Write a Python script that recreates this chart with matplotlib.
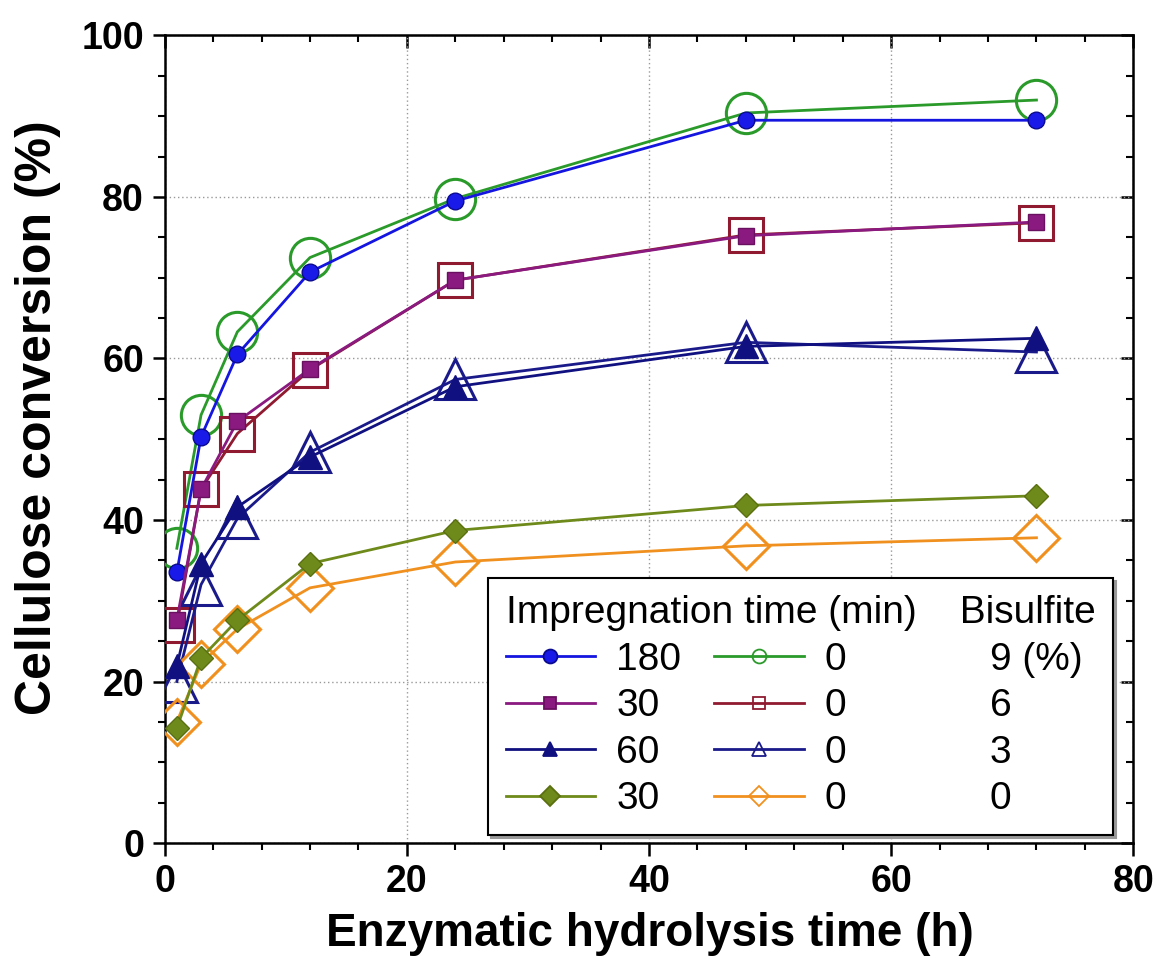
import matplotlib
matplotlib.use("Agg")
import matplotlib.pyplot as plt
from matplotlib.lines import Line2D
from matplotlib.ticker import MultipleLocator

plt.rcParams['font.family'] = ['Liberation Sans', 'DejaVu Sans']

# Data
hours = [1, 3, 6, 12, 24, 48, 72]
s180_bis9 = [33.5, 50.3, 60.5, 70.7, 79.5, 89.5, 89.5]
s0_bis9 = [36.5, 53.0, 63.3, 72.5, 79.8, 90.4, 92.0]
s30_bis6 = [27.6, 43.8, 52.2, 58.7, 69.7, 75.2, 76.9]
s0_bis6 = [27.0, 43.8, 50.7, 58.6, 69.7, 75.3, 76.8]
s60_bis3 = [21.9, 34.6, 41.6, 47.8, 56.5, 61.5, 62.5]
s0_bis3 = [20.0, 32.0, 40.2, 48.4, 57.4, 62.0, 60.8]
s30_bis0 = [14.2, 22.9, 27.6, 34.6, 38.7, 41.8, 43.0]
s0_bis0 = [15.0, 22.2, 26.5, 31.6, 34.8, 36.8, 37.8]

imp_filled = ["180", "30", "60", "30"]
imp_open = ["0", "0", "0", "0"]
bisulfite = ["9 (%)", "6", "3", "0"]

fig = plt.figure(figsize=(11.6, 9.58), dpi=100)
ax = fig.add_axes([0.142, 0.120, 0.835, 0.843])

# styles
filled = [
    (s180_bis9, dict(color='#1515e0', marker='o', ms=12, mfc='#1a1ae8', mec='#0a0a90')),
    (s30_bis6, dict(color='#8a1a80', marker='s', ms=12, mfc='#8a1a80', mec='#6a1060')),
    (s60_bis3, dict(color='#101080', marker='^', ms=17, mfc='#101080', mec='#101080')),
    (s30_bis0, dict(color='#6e8a1a', marker='D', ms=12, mfc='#6e8a1a', mec='#5a7010')),
]
opened = [
    (s0_bis9, dict(color='#2a9a2a', marker='o', ms=29, mfc='none', mec='#2a9a2a')),
    (s0_bis6, dict(color='#901a30', marker='s', ms=24, mfc='none', mec='#901a30')),
    (s0_bis3, dict(color='#1a1a8a', marker='^', ms=29, mfc='none', mec='#1a1a8a')),
    (s0_bis0, dict(color='#f0901e', marker='D', ms=23, mfc='none', mec='#f0901e')),
]

for (d, st) in opened:
    ax.plot(hours, d, lw=2.0, mew=2.2, zorder=3, **st)
for (d, st) in filled:
    ax.plot(hours, d, lw=2.0, mew=1.0, zorder=4, **st)

ax.set_xlim(0, 80)
ax.set_ylim(0, 100)
ax.xaxis.set_major_locator(MultipleLocator(20))
ax.xaxis.set_minor_locator(MultipleLocator(4))
ax.yaxis.set_major_locator(MultipleLocator(20))
ax.yaxis.set_minor_locator(MultipleLocator(5))
ax.grid(True, which='major', ls=(0, (1, 2)), color='#999999', lw=1.0)
ax.set_axisbelow(True)

for sp in ax.spines.values():
    sp.set_linewidth(1.8)
ax.tick_params(which='major', direction='out', length=9, width=1.8,
               labelsize=27, pad=6)
ax.tick_params(which='minor', direction='out', length=5, width=1.5)
for lab in ax.get_xticklabels() + ax.get_yticklabels():
    lab.set_fontweight('bold')

# mirrored inward ticks on top/right
axt = ax.secondary_xaxis('top')
axt.xaxis.set_major_locator(MultipleLocator(20))
axt.xaxis.set_minor_locator(MultipleLocator(4))
axt.tick_params(which='major', direction='in', length=9, width=1.8, labeltop=False)
axt.tick_params(which='minor', direction='in', length=5, width=1.5)
axr = ax.secondary_yaxis('right')
axr.yaxis.set_major_locator(MultipleLocator(20))
axr.yaxis.set_minor_locator(MultipleLocator(5))
axr.tick_params(which='major', direction='in', length=9, width=1.8, labelright=False)
axr.tick_params(which='minor', direction='in', length=5, width=1.5)

ax.set_xlabel('Enzymatic hydrolysis time (h)', fontsize=33, fontweight='bold')
ax.set_ylabel('Cellulose conversion (%)', fontsize=36, fontweight='bold')
ax.xaxis.set_label_coords(0.501, -0.085)
ax.yaxis.set_label_coords(-0.107, 0.527)

# legend
def handle(st, small):
    s = dict(st)
    s['ms'] = small
    return Line2D([], [], lw=2.0, mew=1.3, **s)

h_f = [handle(st, sz) for (d, st), sz in zip(filled, [10, 9, 10, 10])]
h_o = [handle(st, sz) for (d, st), sz in zip(opened, [10, 9, 10, 10])]
h_b = [Line2D([], [], lw=0, marker=None, color='none') for _ in bisulfite]

handles = h_f + h_o + h_b
labels = imp_filled + imp_open + bisulfite
leg = ax.legend(handles, labels, ncol=3, loc='lower right',
                bbox_to_anchor=(0.979, 0.01), borderaxespad=0,
                fontsize=28, handlelength=2.3, handletextpad=0.54,
                columnspacing=0.85, labelspacing=0.27, borderpad=0.45,
                title='Impregnation time (min)    Bisulfite',
                title_fontsize=28, alignment='left',
                frameon=True, fancybox=False, edgecolor='black',
                shadow={'color': '0.6', 'alpha': 1.0}, framealpha=1)
leg.get_frame().set_linewidth(1.5)

fig.savefig('out.png', dpi=100)
